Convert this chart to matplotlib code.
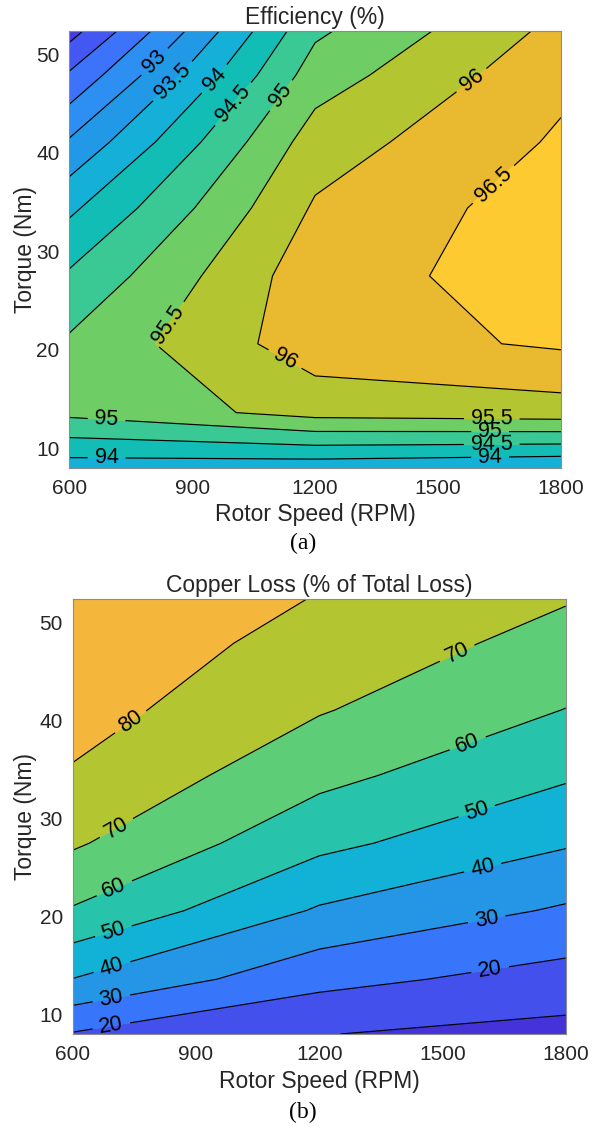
import numpy as np
import matplotlib
matplotlib.use("Agg")
import matplotlib.pyplot as plt

# ---------------- data ----------------
speed = [600, 1200, 1800]                                   # RPM
torque = [8.0, 13.6, 20.6, 27.5, 34.4, 41.1, 47.9, 52.4]    # Nm

# Efficiency (%) at each torque, one list per speed
eff_600 = [93.75, 95.12, 95.08, 94.57, 93.90, 93.06, 92.07, 91.30]
eff_1200 = [93.69, 95.68, 96.28, 96.30, 96.06, 95.75, 95.25, 94.91]
eff_1800 = [93.54, 95.77, 96.57, 96.73, 96.77, 96.57, 96.38, 96.15]

# Copper loss (% of total loss) at each torque, one list per speed
cu_600 = [19.3, 39.8, 59.15, 71.27, 79.0, 84.05, 87.5, 89.0]
cu_1200 = [10.3, 23.05, 38.9, 52.57, 62.74, 70.7, 76.0, 79.5]
cu_1800 = [6.8, 16.1, 28.74, 41.0, 51.2, 59.8, 66.7, 70.6]

eff_levels = [91.5, 92, 92.5, 93, 93.5, 94, 94.5, 95, 95.5, 96, 96.5]
cu_levels = [10, 20, 30, 40, 50, 60, 70, 80]

x_ticks = [600, 900, 1200, 1500, 1800]
y_ticks = [10, 20, 30, 40, 50]

# ---------------- styles ----------------
eff_colors = ["#483cdf", "#4457f2", "#3c73fa", "#2d8ff2", "#2199e6", "#14b0d8",
              "#12bdb5", "#3ac895", "#6ecd64", "#b3c632", "#e9b930", "#fdca32"]
cu_colors = ["#4433d8", "#4450ec", "#3775fb", "#2596e6", "#12b1d6", "#27c4ab",
             "#5dcd78", "#b3c632", "#f4b73c"]

eff_label_pos = [(810, 49.2), (859, 47.0), (955, 47.5), (1005, 44.8), (1118, 45.8),
                 (846, 22.4), (1126, 19.0), (1587, 47.1), (1635, 36.8),
                 (691, 12.9), (691, 9.0), (1631, 12.85), (1627, 11.6),
                 (1631, 10.35), (1627, 9.0)]
cu_label_pos = [(744, 39.7), (707, 29.0), (703, 22.7), (699, 18.5), (695, 14.9),
                (695, 11.5), (695, 8.6), (1539, 46.6), (1563, 37.5), (1583, 30.8),
                (1599, 24.8), (1608, 19.6), (1616, 14.6)]

TXT = "#262626"
SANS = ["Liberation Sans", "DejaVu Sans"]
plt.rcParams["font.family"] = SANS

fig = plt.figure(figsize=(6.0, 11.27), dpi=100)


def panel(rect, z_cols, levels, colors, label_pos, title, caption, cap_y, ylab_x):
    ax = fig.add_axes(rect)
    X, Y = np.meshgrid(speed, torque)
    Z = np.column_stack(z_cols)
    fill_levels = [Z.min() - 1] + list(levels) + [Z.max() + 1]
    ax.contourf(X, Y, Z, levels=fill_levels, colors=colors)
    cs = ax.contour(X, Y, Z, levels=levels, colors="k", linewidths=0.85)
    ax.clabel(cs, levels, inline=True, inline_spacing=7, fontsize=15.5,
              fmt="%g", manual=label_pos, colors="k")
    ax.set_xlim(speed[0], speed[-1])
    ax.set_ylim(torque[0], torque[-1])
    ax.set_xticks(x_ticks)
    ax.set_yticks(y_ticks)
    ax.tick_params(length=0, labelsize=15, colors=TXT, pad=7)
    ax.tick_params(axis="x", pad=8)
    ax.set_xlabel("Rotor Speed (RPM)", fontsize=16.5, color=TXT, labelpad=4)
    ax.set_ylabel("Torque (Nm)", fontsize=16.5, color=TXT)
    ax.yaxis.set_label_coords(ylab_x, 0.5)
    ax.set_title(title, fontsize=16.5, color=TXT, pad=5)
    for s in ax.spines.values():
        s.set_color("#8c8c8c")
        s.set_linewidth(0.8)
    fig.text(0.505, cap_y, caption, ha="center", va="center",
             fontsize=17, family=["Liberation Serif", "DejaVu Serif"], color="k")
    return ax


panel([0.1155, 0.585, 0.8195, 0.3875], [eff_600, eff_1200, eff_1800],
      eff_levels, eff_colors, eff_label_pos, "Efficiency (%)", "(a)",
      1 - 543 / 1127, -0.066)
panel([0.1212, 0.0825, 0.8217, 0.3857], [cu_600, cu_1200, cu_1800],
      cu_levels, cu_colors, cu_label_pos, "Copper Loss (% of Total Loss)", "(b)",
      1 - 1112 / 1127, -0.072)

fig.savefig("out.png", dpi=100)
